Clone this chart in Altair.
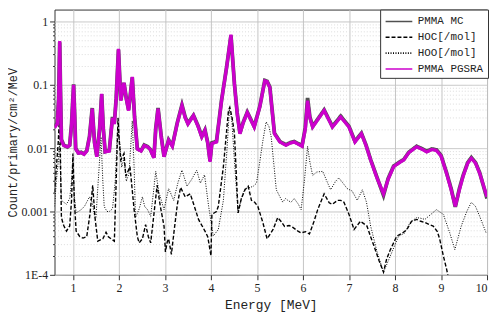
import altair as alt
import pandas as pd

# ---- data ----
pgsra_e = [0.60,0.66,0.69,0.713,0.73,0.75,0.80,0.88,0.93,0.97,1.015,1.04,1.06,1.12,1.18,1.24,1.30,1.36,1.42,1.47,
           1.52,1.58,1.625,1.66,1.70,1.79,1.86,1.90,1.94,1.99,2.04,2.11,2.16,2.21,2.29,2.34,2.40,2.48,2.55,2.62,
           2.68,2.76,2.80,2.85,2.92,2.98,3.08,3.16,3.27,3.37,3.44,3.50,3.62,3.72,3.80,3.87,3.93,3.98,4.02,4.12,
           4.23,4.34,4.435,4.51,4.57,4.63,4.70,4.79,4.94,5.06,5.17,5.22,5.28,5.38,5.50,5.63,5.72,5.81,5.98,6.05,
           6.10,6.15,6.21,6.46,6.64,6.82,7.00,7.13,7.27,7.37,7.47,7.60,7.75,7.85,7.97,8.08,8.19,8.30,8.47,8.60,
           8.69,8.80,8.90,9.00,9.12,9.22,9.31,9.40,9.48,9.58,9.66,9.75,9.84,10.0]
pgsra_v = [0.021,0.024,0.06,0.49,0.08,0.0134,0.011,0.0105,0.011,0.023,0.10,0.03,0.0097,0.0083,0.0085,0.008,0.009,0.015,0.042,0.012,
           0.0073,0.02,0.072,0.02,0.0087,0.009,0.030,0.024,0.06,0.37,0.056,0.108,0.06,0.039,0.133,0.03,0.0097,0.009,0.011,0.0105,
           0.0095,0.0070,0.02,0.042,0.015,0.0073,0.0133,0.0107,0.025,0.047,0.03,0.024,0.0327,0.022,0.015,0.0191,0.012,0.0061,0.0118,0.0125,
           0.056,0.187,0.62,0.102,0.035,0.0169,0.025,0.0365,0.0215,0.0443,0.115,0.112,0.09,0.0169,0.0125,0.0111,0.012,0.0125,0.0107,0.02,
           0.056,0.03,0.0215,0.0394,0.0215,0.031,0.0215,0.0125,0.0169,0.011,0.0065,0.0035,0.0019,0.0032,0.0051,0.0058,0.0065,0.0085,0.0105,0.0095,
           0.0087,0.0095,0.0092,0.0075,0.0040,0.0022,0.00121,0.0022,0.0036,0.0058,0.0069,0.0058,0.0040,0.0017]

mc_e = list(pgsra_e)
mc_v = [0.022,0.025,0.062,0.47,0.082,0.0136,0.0112,0.0104,0.0112,0.024,0.102,0.031,0.0099,0.0084,0.0086,0.0081,0.0091,0.0152,0.043,0.0122,
        0.0074,0.0205,0.071,0.0205,0.0088,0.0091,0.031,0.0245,0.061,0.36,0.057,0.107,0.061,0.040,0.131,0.031,0.0098,0.0091,0.0112,0.0106,
        0.0096,0.0071,0.0205,0.043,0.0152,0.0074,0.0135,0.0109,0.0255,0.048,0.031,0.0245,0.033,0.0225,0.0153,0.0194,0.0122,0.0063,0.0121,0.0128,
        0.057,0.19,0.60,0.104,0.036,0.0172,0.0255,0.037,0.022,0.045,0.117,0.114,0.092,0.0172,0.0127,0.0113,0.0122,0.0127,0.0109,0.021,
        0.062,0.031,0.022,0.040,0.022,0.032,0.022,0.0128,0.0172,0.0112,0.0066,0.0036,0.0018,0.0033,0.0052,0.0059,0.0066,0.0086,0.0107,0.0097,
        0.0089,0.0097,0.0094,0.0077,0.0041,0.0023,0.00118,0.0023,0.0037,0.0059,0.0071,0.0059,0.0041,0.0016]

hoc_e = [0.60,0.64,0.68,0.71,0.73,0.75,0.80,0.86,0.93,0.97,1.0,1.03,1.07,1.15,1.22,1.30,1.37,1.43,1.48,1.54,
         1.65,1.72,1.77,1.83,1.90,1.94,1.98,2.01,2.04,2.11,2.15,2.24,2.33,2.40,2.44,2.51,2.58,2.64,2.69,2.76,
         2.83,2.90,2.98,3.01,3.05,3.08,3.14,3.20,3.27,3.34,3.44,3.55,3.64,3.73,3.87,3.93,4.0,4.02,4.12,4.16,
         4.27,4.38,4.41,4.46,4.51,4.55,4.59,4.66,4.74,4.81,4.88,4.95,5.02,5.13,5.22,5.35,5.45,5.52,5.60,5.70,
         5.78,5.89,5.96,6.06,6.14,6.24,6.32,6.46,6.57,6.64,6.75,6.82,6.89,7.00,7.11,7.25,7.39,7.47,7.54,7.65,
         7.75,7.82,7.90,8.04,8.15,8.26,8.36,8.47,8.56,8.65,8.75,8.83,8.92,8.97,9.05,9.12,9.16]
hoc_v = [0.002,0.005,0.012,0.035,0.006,0.0008,0.0006,0.00049,0.00059,0.0015,0.0082,0.0015,0.00049,0.0004,0.00038,0.0004,0.0009,0.0026,0.0008,0.00034,
         0.00037,0.00047,0.0004,0.00037,0.00034,0.003,0.03,0.012,0.0065,0.0082,0.0036,0.0051,0.00107,0.0004,0.00032,0.00037,0.00062,0.0004,0.00032,0.0009,
         0.0026,0.0012,0.00059,0.00023,0.00033,0.00037,0.00021,0.0005,0.0013,0.0024,0.0017,0.0019,0.0012,0.00075,0.00049,0.0004,0.0002,0.0009,0.001,0.00121,
         0.0051,0.039,0.044,0.03,0.017,0.004,0.00095,0.0016,0.0022,0.0025,0.0015,0.0014,0.0012,0.00066,0.00037,0.00052,0.0008,0.0007,0.00058,0.0006,
         0.00056,0.00049,0.00046,0.00048,0.00044,0.0007,0.00107,0.0019,0.00137,0.0013,0.0015,0.0015,0.0014,0.0009,0.00052,0.0007,0.00059,0.0004,0.00029,0.00017,
         0.00011,0.00018,0.00025,0.00041,0.00045,0.00052,0.0007,0.00075,0.0007,0.00067,0.00062,0.00059,0.00048,0.00037,0.0002,0.000124,0.00009]

hoo_e = [0.60,0.64,0.68,0.71,0.73,0.75,0.80,0.86,0.93,0.97,1.0,1.03,1.07,1.12,1.18,1.25,1.36,1.42,1.47,1.50,
         1.55,1.61,1.65,1.68,1.74,1.79,1.86,1.92,1.97,2.02,2.06,2.11,2.16,2.22,2.29,2.33,2.36,2.44,2.51,2.56,
         2.62,2.69,2.75,2.80,2.87,2.98,3.08,3.19,3.28,3.37,3.48,3.58,3.69,3.77,3.86,3.95,4.05,4.16,4.27,4.35,
         4.40,4.45,4.52,4.59,4.66,4.74,4.85,4.92,4.99,5.06,5.13,5.20,5.26,5.31,5.42,5.56,5.62,5.67,5.74,5.81,
         5.90,5.96,6.03,6.10,6.15,6.21,6.30,6.43,6.52,6.60,6.71,6.78,6.87,6.96,7.07,7.18,7.29,7.38,7.47,7.61,
         7.75,7.90,8.08,8.20,8.33,8.47,8.56,8.65,8.78,8.90,9.05,9.19,9.30,9.44,9.56,9.66,9.75,9.84,9.98]
hoo_v = [0.0012,0.003,0.006,0.012,0.004,0.0015,0.0014,0.0013,0.0016,0.003,0.006,0.0018,0.00095,0.001,0.00107,0.0012,0.0017,0.0014,0.00085,0.0008,
         0.003,0.015,0.003,0.0012,0.001,0.001,0.0011,0.003,0.02,0.012,0.005,0.007,0.003,0.004,0.027,0.005,0.0008,0.0011,0.0017,0.0012,
         0.00107,0.00084,0.002,0.0043,0.002,0.00107,0.0023,0.0015,0.0028,0.0045,0.0025,0.0032,0.0045,0.0028,0.0038,0.0012,0.00041,0.00052,0.0015,0.01,
         0.04,0.03,0.005,0.00095,0.0016,0.0023,0.0024,0.0025,0.0028,0.006,0.0133,0.026,0.022,0.015,0.0022,0.0014,0.0016,0.0015,0.0014,0.0016,
         0.0013,0.00107,0.003,0.0107,0.006,0.0037,0.0042,0.0043,0.003,0.0022,0.003,0.0034,0.0028,0.0023,0.0021,0.0015,0.0022,0.0014,0.00059,0.00023,
         0.00011,0.0002,0.00041,0.00045,0.00067,0.0008,0.00078,0.00075,0.0009,0.00107,0.0009,0.00046,0.00025,0.00059,0.001,0.0014,0.0012,0.00084,0.00046]

series_names = ["PMMA MC", "HOC[/mol]", "HOO[/mol]", "PMMA PGSRA"]
series_colors = ["#505050", "#000000", "#000000", "#CC00CC"]
series_dash = [[1, 0], [4, 2], [1, 1.5], [1, 0]]
x_ticks = [1, 2, 3, 4, 5, 6, 7, 8, 9, 10]
y_ticks = [m * d for d in [1e-4, 1e-3, 1e-2, 1e-1] for m in range(1, 10)] + [1]

MONO = "Liberation Mono"
SERIF = "Liberation Serif"

def frame(es, vs, name):
    return pd.DataFrame({"E": es, "v": vs, "series": name})

decade = "abs(log(datum.value)/LN10 - round(log(datum.value)/LN10)) < 0.001"

x_enc = alt.X("E:Q", scale=alt.Scale(domain=[0.6, 10], nice=False, zero=False),
              axis=alt.Axis(values=x_ticks, title="Energy [MeV]", grid=True,
                            gridColor="#c4c4c4", gridWidth=1, tickColor="#333", domain=False,
                            labelFont=SERIF, labelFontSize=12, labelColor="#222",
                            titleFont=MONO, titleFontSize=13, titleFontWeight="normal",
                            titleColor="#222", titlePadding=5, tickSize=5, labelPadding=3))
y_enc = alt.Y("v:Q", scale=alt.Scale(type="log", domain=[1e-4, 1.54], nice=False),
              axis=alt.Axis(values=y_ticks, title="Count/primary/cm²/MeV",
                            labelExpr="datum.value == 0.0001 ? '1E-4' : (" + decade + " ? format(datum.value, '~g') : '')",
                            grid=True,
                            gridColor={"condition": {"test": decade, "value": "#c4c4c4"}, "value": "#dcdcdc"},
                            gridDash={"condition": {"test": decade, "value": [1, 0]}, "value": [1, 2]},
                            tickSize={"condition": {"test": decade, "value": 5}, "value": 2},
                            tickColor="#333", domain=False,
                            labelFont=SERIF, labelFontSize=12, labelColor="#222",
                            titleFont=MONO, titleFontSize=12, titleFontWeight="normal",
                            titleColor="#222", titlePadding=1, labelPadding=2))

legend = alt.Legend(title=None, orient="none", legendX=329, legendY=0,
                    symbolType="M-2,0H2", symbolSize=182, symbolStrokeWidth=1.6,
                    symbolOffset=7, labelOffset=11,
                    labelFont=MONO, labelFontSize=11, labelColor="#222",
                    strokeColor="#333", fillColor="white", padding=4,
                    rowPadding=3, cornerRadius=0)

color_enc = alt.Color("series:N", scale=alt.Scale(domain=series_names, range=series_colors), legend=legend)
dash_enc = alt.StrokeDash("series:N", scale=alt.Scale(domain=series_names, range=series_dash), legend=legend)

def layer(df, width):
    return alt.Chart(df).mark_line(strokeWidth=width, clip=True).encode(
        x=x_enc, y=y_enc, color=color_enc, strokeDash=dash_enc)

chart = alt.layer(
    layer(frame(hoo_e, hoo_v, "HOO[/mol]"), 1.0),
    layer(frame(hoc_e, hoc_v, "HOC[/mol]"), 1.4),
    layer(frame(mc_e, mc_v, "PMMA MC"), 3.8),
    layer(frame(pgsra_e, pgsra_v, "PMMA PGSRA"), 3.3),
).properties(
    width=437, height=268,
    autosize=alt.AutoSizeParams(type="none"),
    padding={"left": 47, "top": 0, "right": 3, "bottom": 38},
).configure_view(stroke="#333", strokeWidth=1)

chart.save("out.html", embed_options={"renderer": "svg", "actions": False})
